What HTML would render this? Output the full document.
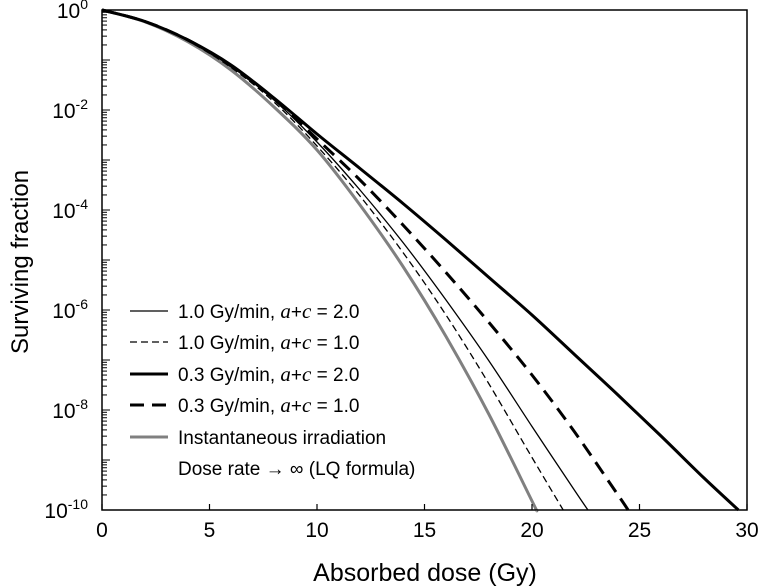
<!DOCTYPE html>
<html><head><meta charset="utf-8"><style>
body{margin:0;background:#fff;}
svg{display:block;font-family:"Liberation Sans",Arial,sans-serif;}
</style></head><body>
<svg id="chart" width="760" height="588" viewBox="0 0 760 588" xmlns="http://www.w3.org/2000/svg">
<g id="series"></g>
<rect x="102" y="10" width="645" height="500" fill="none" stroke="#000" stroke-width="1.5"/>
<g id="axes"></g>
<text x="425" y="581" font-size="25" text-anchor="middle">Absorbed dose (Gy)</text>
<text x="0" y="0" font-size="24" text-anchor="middle" transform="translate(28,262) rotate(-90)">Surviving fraction</text>
<g id="legend"></g>
</svg>
<script>
const xTicks=[0,5,10,15,20,25,30];
const yDecades=[0,-2,-4,-6,-8,-10];
const doseA=[0,2,4,6,8,10,12,14,16,18,20,22,22.6];
const logThinSolid=[0,-0.23,-0.61,-1.13,-1.8,-2.64,-3.6,-4.65,-5.8,-7.02,-8.33,-9.62,-10];
const doseB=[0,2,4,6,8,10,12,14,16,18,20,21.45];
const logThinDashed=[0,-0.23,-0.62,-1.15,-1.84,-2.72,-3.72,-4.85,-6.1,-7.48,-8.95,-10];
const doseC=[0,2,4,6,8,10,12,14,16,18,20,22,24,24.47];
const logThickDashed=[0,-0.23,-0.6,-1.12,-1.78,-2.58,-3.4,-4.3,-5.25,-6.25,-7.3,-8.45,-9.7,-10];
const doseD=[0,2,4,6,8,10,12,14,16,18,20,22,24,26,28,29.6];
const logThickSolid=[0,-0.23,-0.6,-1.1,-1.76,-2.48,-3.17,-3.87,-4.6,-5.35,-6.1,-6.9,-7.7,-8.52,-9.36,-10];
const doseE=[0,2,4,6,8,10,12,14,16,18,20,20.2];
const logInstant=[0,-0.235,-0.636,-1.2,-1.94,-2.8,-3.9,-5.13,-6.53,-8.09,-9.82,-10];
const legendLabels=["1.0 Gy/min, ","1.0 Gy/min, ","0.3 Gy/min, ","0.3 Gy/min, ","Instantaneous irradiation"];
const legendValues=["2.0","1.0","2.0","1.0",""];

const NS="http://www.w3.org/2000/svg";
const X0=102,X1=747,Y0=10,Y1=510;
function sx(d){return X0+(d-0)/(30-0)*(X1-X0);}
function sy(l){return Y0+(0-l)/(10)*(Y1-Y0);}
function mk(tag,attrs,parent){const e=document.createElementNS(NS,tag);for(const k in attrs)e.setAttribute(k,attrs[k]);parent.appendChild(e);return e;}
const axes=document.getElementById('axes');
xTicks.forEach(t=>{
  const l=mk('line',{x1:sx(t),x2:sx(t),y1:Y1,y2:Y1-6,stroke:'#000','stroke-width':1.2},axes);
  
  
  const tx=mk('text',{x:sx(t),y:Y1+27,'font-size':21,'text-anchor':'middle'},axes);
  
  
  tx.textContent=t;
});
for(let dec=0;dec>-10;dec--){
  for(let m=1;m<10;m++){
    const v=dec-1+Math.log10(m);
    const len=(m===1)?8:5;
    const ln=mk('line',{x1:X0,x2:X0+len,y1:sy(v),y2:sy(v),stroke:'#000','stroke-width':1},axes);
    
    
  }
}
yDecades.forEach(d=>{
  const t=mk('text',{x:88,y:sy(d)+8,'font-size':21,'text-anchor':'end'},axes);
  
  
  t.innerHTML='10<tspan dy="-9" font-size="14">'+d+'</tspan>';
});
const series=document.getElementById('series');
function drawLine(xs,ys,style,name){
  const P=xs.map((x,i)=>[sx(x),sy(ys[i])]);
  let p='M'+P[0][0].toFixed(1)+','+P[0][1].toFixed(1);
  for(let i=0;i<P.length-1;i++){
    const a=P[Math.max(0,i-1)],b=P[i],c=P[i+1],d=P[Math.min(P.length-1,i+2)];
    const c1=[b[0]+(c[0]-a[0])/6,b[1]+(c[1]-a[1])/6];
    const c2=[c[0]-(d[0]-b[0])/6,c[1]-(d[1]-b[1])/6];
    p+=' C'+c1[0].toFixed(1)+','+c1[1].toFixed(1)+' '+c2[0].toFixed(1)+','+c2[1].toFixed(1)+' '+c[0].toFixed(1)+','+c[1].toFixed(1);
  }
  const e=mk('path',Object.assign({d:p,fill:'none','stroke-linejoin':'round'},style),series);
  
  
}
const styles=[
 {stroke:'#000','stroke-width':1.3},
 {stroke:'#000','stroke-width':1.3,'stroke-dasharray':'7,4'},
 {stroke:'#000','stroke-width':3},
 {stroke:'#000','stroke-width':3,'stroke-dasharray':'14,8'},
 {stroke:'#808080','stroke-width':3}
];
drawLine(doseE,logInstant,styles[4],'instantaneous-curve');
drawLine(doseB,logThinDashed,styles[1],'curve-1gy-ac1');
drawLine(doseA,logThinSolid,styles[0],'curve-1gy-ac2');
drawLine(doseC,logThickDashed,styles[3],'curve-03gy-ac1');
drawLine(doseD,logThickSolid,styles[2],'curve-03gy-ac2');
const lg=document.getElementById('legend');
const rows=[311,342,374,405,437];
legendLabels.forEach((lab,i)=>{
  const ln=mk('line',Object.assign({x1:130,x2:168,y1:rows[i],y2:rows[i]},styles[i]),lg);
  
  
  const t=mk('text',{x:178,y:rows[i]+7,'font-size':19},lg);
  
  
  if(legendValues[i]) t.innerHTML=lab+'<tspan font-family="Liberation Serif,serif" font-style="italic" font-size="21">a</tspan>+<tspan font-family="Liberation Serif,serif" font-style="italic" font-size="21">c</tspan> = '+legendValues[i];
  else t.textContent=lab;
});
const t2=mk('text',{x:178,y:475,'font-size':19},lg);


t2.textContent='Dose rate \u2192 \u221E  (LQ formula)';
</script>
</body></html>
